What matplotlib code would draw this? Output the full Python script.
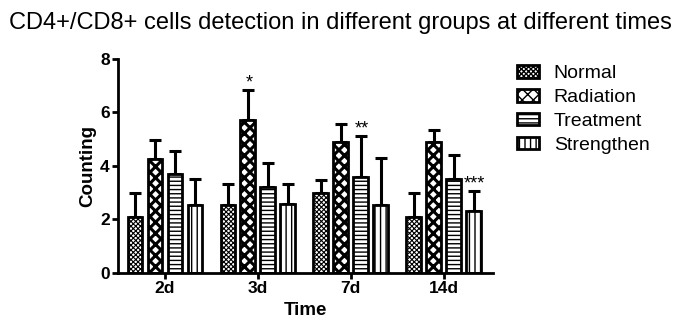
import numpy as np
import matplotlib
matplotlib.use("Agg")
import matplotlib.pyplot as plt

plt.rcParams['font.family'] = ['Liberation Sans', 'DejaVu Sans']
plt.rcParams['hatch.linewidth'] = 1.0

# Data
times = ['2d', '3d', '7d', '14d']
groups = ['Normal', 'Radiation', 'Treatment', 'Strengthen']

means = {
    'Normal':     [2.08, 2.55, 3.00, 2.08],
    'Radiation':  [4.25, 5.72, 4.88, 4.90],
    'Treatment':  [3.68, 3.20, 3.60, 3.52],
    'Strengthen': [2.55, 2.58, 2.55, 2.32],
}
errs = {
    'Normal':     [0.90, 0.78, 0.48, 0.90],
    'Radiation':  [0.72, 1.12, 0.70, 0.46],
    'Treatment':  [0.88, 0.92, 1.52, 0.90],
    'Strengthen': [0.95, 0.74, 1.76, 0.74],
}
hatches = ['xxxxxxx', 'xxx', '----', '|||']
hatch_lw = [0.8, 2.2, 1.0, 1.0]

# significance marks: (time index, group index, text)
marks = [(1, 1, '*'), (2, 2, '**'), (3, 3, '***')]

fig = plt.figure(figsize=(6.76, 3.2), dpi=100)
ax = fig.add_axes([0.1746, 0.147, 0.729 - 0.1746, 0.816 - 0.147])

x = np.arange(len(times))
pitch = 0.215
width = 0.16

handles = []
for i, g in enumerate(groups):
    pos = x + (i - 1.5) * pitch
    b = ax.bar(pos, means[g], width, color='white', edgecolor='black',
               linewidth=2, hatch=hatches[i], label=g, zorder=2)
    for p in b:
        try:
            p.set_hatch_linewidth(hatch_lw[i])
        except AttributeError:
            pass
    handles.append(b)
    ax.errorbar(pos, means[g], yerr=[np.zeros(len(times)), errs[g]], fmt='none',
                ecolor='black', elinewidth=2.2, capsize=4, capthick=2.2, zorder=1)

for ti, gi, txt in marks:
    g = groups[gi]
    xp = x[ti] + (gi - 1.5) * pitch
    yp = means[g][ti] + errs[g][ti]
    ax.text(xp + 0.01, yp - 0.05, txt, ha='center', va='bottom', fontsize=13)

ax.set_xlim(-0.505, 3.527)
ax.set_ylim(0, 8)
ax.set_yticks([0, 2, 4, 6, 8])
ax.set_xticks(x)
ax.set_xticklabels(times)
for sp in ['top', 'right']:
    ax.spines[sp].set_visible(False)
for sp in ['left', 'bottom']:
    ax.spines[sp].set_linewidth(2)
ax.tick_params(width=2, length=4, labelsize=12.5, pad=2)
for lab in ax.get_xticklabels() + ax.get_yticklabels():
    lab.set_fontweight('bold')

ax.set_xlabel('Time', fontsize=13.5, fontweight='bold', labelpad=4)
ax.set_ylabel('Counting', fontsize=13.5, fontweight='bold', labelpad=3)

fig.suptitle('CD4+/CD8+ cells detection in different groups at different times',
             fontsize=17, x=0.503, y=0.962)

ax.legend(handles=handles, labels=groups, loc='upper left',
          bbox_to_anchor=(0.75, 0.826), bbox_transform=fig.transFigure,
          frameon=False, fontsize=14, handlelength=1.15, handleheight=0.6,
          labelspacing=0.35, handletextpad=0.75, borderpad=0)

fig.savefig('out.png', dpi=100)
